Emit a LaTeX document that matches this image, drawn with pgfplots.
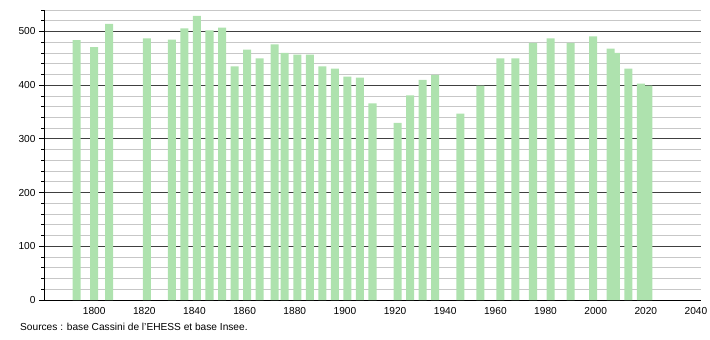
\documentclass[border=0pt]{standalone}
\usepackage{pgfplots}
\pgfplotsset{compat=1.18}
\usepackage{pgfplotstable}
\usepackage{fontspec}
\setmainfont{Liberation Sans}
\definecolor{barg}{RGB}{174,226,174}
\pgfplotstableread{
year pop
1793 484
1800 471
1806 514
1821 487
1831 485
1836 506
1841 529
1846 502
1851 507
1856 435
1861 466
1866 450
1872 476
1876 460
1881 457
1886 457
1891 435
1896 431
1901 416
1906 414
1911 366
1921 330
1926 381
1931 410
1936 419
1946 347
1954 399
1962 450
1968 450
1975 479
1982 487
1990 479
1999 491
2006 468
2008 460
2013 431
2018 403
2021 399
}\pop
\begin{document}
\begin{tikzpicture}
\path[use as bounding box] (-44bp,-40bp) rectangle (666bp,300bp);
\begin{axis}[
  at={(0,0)}, anchor=south west,
  scale only axis,
  width=657bp, height=290bp,
  xmin=1780, xmax=2042,
  ymin=0, ymax=540,
  axis lines*=left,
  axis line style={black, line width=0.9pt, -},
  xtick={1800,1820,...,2040},
  ytick={0,100,...,500},
  minor ytick={20,40,...,540},
  xticklabel style={/pgf/number format/1000 sep={}, yshift=1.5bp},
  x tick style={draw=none},
  y tick style={black, line width=0.8pt},
  major tick length=5bp,
  minor tick length=3bp,
  tick align=outside,
  ymajorgrids, yminorgrids,
  major grid style={black!75, line width=0.8pt},
  minor grid style={black!22, line width=0.8pt},
  tick label style={font=\fontsize{10.2}{12}\selectfont},
  /pgf/number format/assume math mode=true,
  ybar, bar width=3.2,
  axis on top=false,
]
\addplot[fill=barg, draw=none] table[x=year, y=pop] {\pop};
\end{axis}
\node[anchor=west, inner sep=0pt, font=\fontsize{10.2}{12}\selectfont] at (-24bp,-27bp) {Sources : base Cassini de l'EHESS et base Insee.};
\end{tikzpicture}
\end{document}
